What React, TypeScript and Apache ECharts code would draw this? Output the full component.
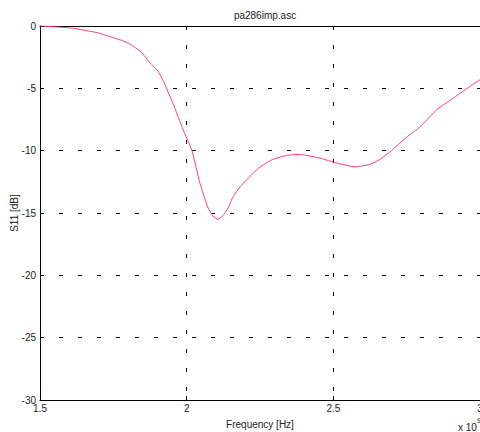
import React, { useEffect, useRef } from "react";
import * as echarts from "echarts";

const freqGHz = [1.5, 1.56, 1.6125, 1.694, 1.739, 1.775, 1.807, 1.845, 1.875, 1.9, 1.919, 1.953, 1.9875, 2.018, 2.045, 2.073, 2.09, 2.107, 2.124, 2.141, 2.158, 2.182, 2.206, 2.24, 2.267, 2.294, 2.328, 2.369, 2.403, 2.455, 2.5125, 2.54, 2.574, 2.625, 2.659, 2.693, 2.751, 2.795, 2.853, 2.908, 2.956, 3.0];
const s11dB = [0, -0.08, -0.18, -0.53, -0.86, -1.12, -1.45, -2.1, -2.95, -3.55, -4.33, -6.2, -8.3, -10.0, -12.6, -14.6, -15.25, -15.5, -15.2, -14.6, -13.7, -12.9, -12.3, -11.5, -11.05, -10.7, -10.45, -10.3, -10.35, -10.6, -11.0, -11.15, -11.3, -11.1, -10.7, -10.1, -8.9, -8.1, -6.7, -5.8, -5.0, -4.3];
const xTicks = [1.5, 2, 2.5, 3];
const yTicks = [-30, -25, -20, -15, -10, -5, 0];

export default function App() {
  const ref = useRef<HTMLDivElement>(null);
  useEffect(() => {
    if (!ref.current) return;
    const chart = echarts.init(ref.current, null, { renderer: "svg" });
    const font = "Liberation Sans, Arial, sans-serif";
    const split = { show: true, lineStyle: { color: "#000", type: [4, 15] as any, width: 1 } };
    chart.setOption({
      animation: false,
      backgroundColor: "#fff",
      textStyle: { fontFamily: font },
      title: {
        text: "pa286imp.asc",
        left: 260,
        top: 5,
        textAlign: "center",
        textStyle: { fontSize: 10, fontWeight: "normal", color: "#222", fontFamily: font },
      },
      grid: { left: 40, top: 26, right: 0, bottom: 32, containLabel: false, outerBoundsMode: "none" },
      xAxis: [
        {
          type: "value",
          min: xTicks[0],
          max: xTicks[xTicks.length - 1],
          interval: 0.5,
          axisLine: { show: true, onZero: false, lineStyle: { color: "#000", width: 1 } },
          axisTick: { show: true, inside: true, length: 4, lineStyle: { color: "#000" } },
          axisLabel: { color: "#222", fontSize: 10, margin: 3, formatter: (v: number) => String(v), fontFamily: font },
          splitLine: split,
          name: "Frequency [Hz]",
          nameLocation: "middle",
          nameGap: 19,
          nameMoveOverlap: false,
          nameTextStyle: { color: "#222", fontSize: 10, fontFamily: font },
        },
        {
          type: "value",
          position: "top",
          min: xTicks[0],
          max: xTicks[xTicks.length - 1],
          interval: 0.5,
          axisLine: { show: true, onZero: false, lineStyle: { color: "#000", width: 1 } },
          axisTick: { show: true, inside: true, length: 4, lineStyle: { color: "#000" } },
          axisLabel: { show: false },
          splitLine: { show: false },
        },
      ],
      yAxis: [
        {
          type: "value",
          min: yTicks[0],
          max: yTicks[yTicks.length - 1],
          interval: 5,
          axisLine: { show: true, onZero: false, lineStyle: { color: "#000", width: 1 } },
          axisTick: { show: true, inside: true, length: 4, lineStyle: { color: "#000" } },
          axisLabel: { color: "#222", fontSize: 10, margin: 4, fontFamily: font },
          splitLine: split,
          name: "S11 [dB]",
          nameLocation: "middle",
          nameGap: 21,
          nameMoveOverlap: false,
          nameRotate: 90,
          nameTextStyle: { color: "#222", fontSize: 10, fontFamily: font },
        },
      ],
      graphic: [
        {
          type: "text",
          x: 458,
          y: 422,
          style: { text: "x 10", fontSize: 10, fill: "#222", fontFamily: font },
        },
        {
          type: "text",
          x: 477,
          y: 417,
          style: { text: "9", fontSize: 7, fill: "#222", fontFamily: font },
        },
      ],
      series: [
        {
          type: "line",
          xAxisIndex: 0,
          data: freqGHz.map((f, i) => [f, s11dB[i]]),
          showSymbol: false,
          smooth: 0.15,
          lineStyle: { color: "#ff3d85", width: 1 },
          clip: false,
        },
      ],
    });
    return () => chart.dispose();
  }, []);
  return (
    <div
      ref={ref}
      style={{ position: "fixed", left: 0, top: 0, width: 480, height: 432 }}
    />
  );
}
